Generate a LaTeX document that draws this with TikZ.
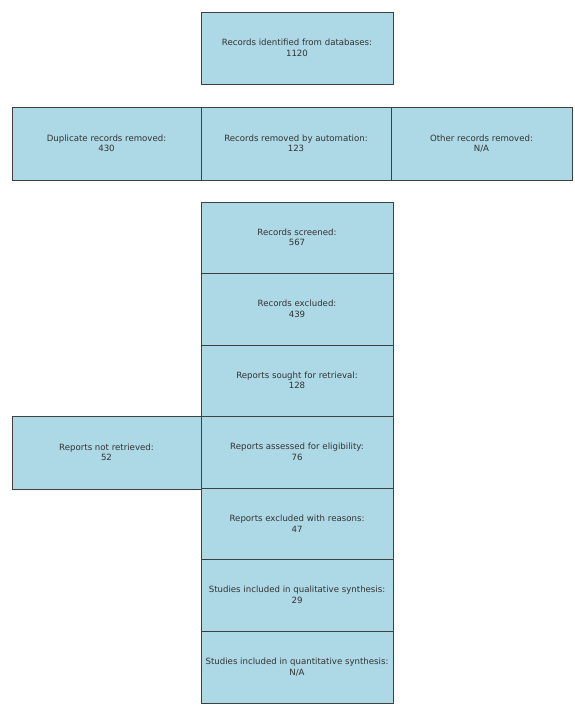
\documentclass[tikz,border=0pt]{standalone}
\usepackage{fontspec}
\setmainfont{DejaVu Sans}
\begin{document}
\begin{tikzpicture}[x=1pt,y=-1pt,
  box/.style={draw=black!75, line width=0.8pt, fill={rgb,255:red,173;green,216;blue,230},
    text=black!80, font=\fontsize{8.6}{10.5}\selectfont, align=center, inner sep=0pt}]
\useasboundingbox (0,0) rectangle (574,706);
\newcommand{\bx}[6]{\node[box, minimum width={#4-#2}, minimum height={#5-#3}] (#1) at ({(#2+#4)/2},{(#3+#5)/2}) {#6};}
\bx{ident}{201}{12}{393}{84}{Records identified from databases:\\1120}
\bx{dup}{12}{107}{201}{180}{Duplicate records removed:\\430}
\bx{auto}{201}{107}{391}{180}{Records removed by automation:\\123}
\bx{other}{391}{107}{572}{180}{Other records removed:\\N/A}
\bx{screen}{201}{202}{393}{273}{Records screened:\\567}
\bx{excl}{201}{273}{393}{345}{Records excluded:\\439}
\bx{sought}{201}{345}{393}{416}{Reports sought for retrieval:\\128}
\bx{notret}{12}{416}{201}{489}{Reports not retrieved:\\52}
\bx{assess}{201}{416}{393}{488}{Reports assessed for eligibility:\\76}
\bx{rexcl}{201}{488}{393}{559}{Reports excluded with reasons:\\47}
\bx{qual}{201}{559}{393}{631}{Studies included in qualitative synthesis:\\29}
\bx{quant}{201}{631}{393}{703}{Studies included in quantitative synthesis:\\N/A}
\end{tikzpicture}
\end{document}
